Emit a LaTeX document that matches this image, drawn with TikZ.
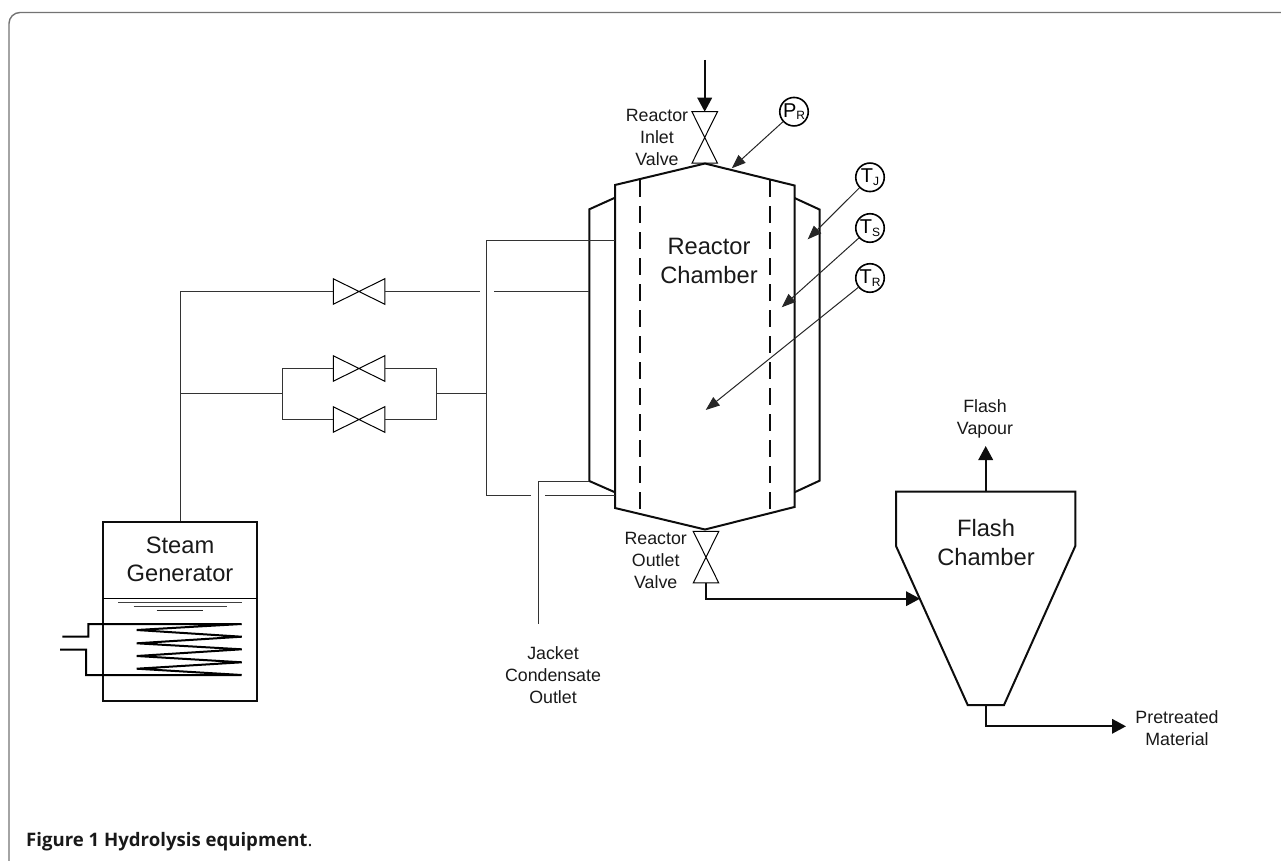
\documentclass[tikz,border=0pt]{standalone}
\usepackage{fontspec}
\newfontfamily\labelfont{Liberation Sans}
\newfontfamily\capfont{Open Sans}
\usetikzlibrary{arrows.meta}
\tikzset{
  vessel/.style={line width=2pt,line join=miter,black!95},
  pipe/.style={line width=1pt,black!80},
  flow/.style={line width=2pt,black!95,-{Triangle[length=14pt,width=14.5pt]}},
  probe/.style={line width=1pt,black!85,-{Triangle[length=14pt,width=10.5pt]}},
  instr/.style={circle,draw,line width=1.6pt,minimum size=28.5pt,inner sep=0pt,fill=white,font=\labelfont\fontsize{20}{20}\selectfont},
  biglabel/.style={align=center,inner sep=0pt,font=\labelfont\fontsize{23.7}{28.5}\selectfont,text=black!90},
  smalllabel/.style={align=center,inner sep=0pt,font=\labelfont\fontsize{17.8}{22}\selectfont,text=black!90},
  valvebox/.style={inner sep=0pt,outer sep=0pt},
  valveline/.style={line width=1pt,black,line join=miter},
  frameline/.style={line width=1.4pt,black!55}
}
\newcommand{\hvalve}[2]{%
  \node[valvebox,minimum width=51.5pt,minimum height=25.5pt] (#1) at (#2) {};
  \draw[valveline] (#1.north west) -- (#1.south west) -- (#1.north east) -- (#1.south east) -- cycle;}
\newcommand{\vvalve}[2]{%
  \node[valvebox,minimum width=25.5pt,minimum height=51.5pt] (#1) at (#2) {};
  \draw[valveline] (#1.north west) -- (#1.north east) -- (#1.south west) -- (#1.south east) -- cycle;}
\newcommand{\subt}[1]{{\raisebox{-2.5pt}{\fontsize{12}{12}\selectfont #1}}}
\begin{document}
\begin{tikzpicture}[x=1pt,y=-1pt]
\useasboundingbox (0,0) rectangle (1281,861);
% frame
\draw[frameline,rounded corners=11pt] (9,870) -- (9,12.5) -- (1290,12.5);

% ---- reactor
\draw[vessel] (615,185) -- (705,163.5) -- (794.5,185.5) -- (794.5,507) -- (705,529.5) -- (615,508) -- cycle;
\draw[vessel] (615,197.7) -- (589.3,209.3) -- (589.3,481) -- (615,492.3);
\draw[vessel] (794.5,198) -- (819.5,209.5) -- (819.5,480.7) -- (794.5,492.3);
\draw[vessel,dash pattern=on 17pt off 9pt] (640.3,180) -- (640.3,509);
\draw[vessel,dash pattern=on 17pt off 9pt] (770,180) -- (770,509);
\node[biglabel] (reactor) at (709,261) {Reactor\\Chamber};

% ---- valves
\vvalve{inlet}{704.7,137.5}
\vvalve{outlet}{706,557.2}
\hvalve{vA}{359,291.5}
\hvalve{vB}{359,368.5}
\hvalve{vC}{359,419.5}
\node[smalllabel] (inletlbl) at (657,137) {Reactor\\Inlet\\Valve};
\node[smalllabel] (outletlbl) at (655.7,560) {Reactor\\Outlet\\Valve};

% ---- inlet
\coordinate (feed) at (704.7,60);
\draw[flow] (feed) -- (inlet.north);

% ---- instruments
\node[instr] (PR) at (794,111.7) {P\subt{R}};
\node[instr] (TJ) at (870,177.3) {T\subt{J}};
\node[instr] (TS) at (870,228) {T\subt{S}};
\node[instr] (TR) at (870,278) {T\subt{R}};
\coordinate (pPR) at (731.7,168.3);
\coordinate (pTJ) at (807.7,239.3);
\coordinate (pTS) at (781.7,307.3);
\coordinate (pTR) at (705.7,410);
\draw[probe] (PR) -- (pPR);
\draw[probe] (TJ) -- (pTJ);
\draw[probe] (TS) -- (pTS);
\draw[probe] (TR) -- (pTR);

% ---- steam generator
\node[draw,vessel,minimum width=153.7pt,minimum height=179pt,inner sep=0pt] (gen) at (179.85,611.2) {};
\node[biglabel] (genlbl) at (180,559.5) {Steam\\Generator};
\draw[line width=1pt] (103,598.5) -- (256.7,598.5);
\draw[line width=0.9pt,black!75] (118.3,602.5) -- (241.7,602.5);
\draw[line width=0.9pt,black!75] (133.7,606.5) -- (226.7,606.5);
\draw[line width=0.9pt,black!85] (156.7,610.5) -- (203.3,610.5);
\draw[line width=2pt,line join=miter] (62.3,636.7) -- (88.3,636.7) -- (88.3,624) -- (241.7,624)
  -- (136.7,630) -- (241.7,636.7) -- (136.7,643.3) -- (241.7,649.3) -- (136.7,656)
  -- (241.7,662.3) -- (136.7,668.7) -- (241.7,675) -- (86,675) -- (86,649.7) -- (60,649.7);

% ---- steam piping
\coordinate (j1) at (180.5,291.5);
\coordinate (j2) at (180.5,393.5);
\coordinate (b1) at (282.5,393.5);
\coordinate (b2) at (436.5,393.5);
\coordinate (hdr) at (486.5,393.5);
\coordinate (gapL) at (480,291.5);
\coordinate (gapR) at (494,291.5);
\coordinate (jkt1) at (589.3,291.5);
\draw[pipe] (gen.north -| j1) -- (j1) -- (vA.west);
\draw[pipe] (vA.east) -- (gapL);
\draw[pipe] (gapR) -- (jkt1);
\draw[pipe] (j2) -- (b1);
\draw[pipe] (vB.west) -| (b1) |- (vC.west);
\draw[pipe] (vB.east) -| (b2) |- (vC.east);
\draw[pipe] (b2) -- (hdr);
\coordinate (hdrT) at (486.5,240.5);
\coordinate (hdrB) at (486.5,495.5);
\coordinate (rT) at (615,240.5);
\coordinate (rB) at (615,495.5);
\coordinate (gapB1) at (531,495.5);
\coordinate (gapB2) at (545.3,495.5);
\draw[pipe,line join=miter] (rT) -- (hdrT) -- (hdrB) -- (gapB1);
\draw[pipe] (gapB2) -- (rB);
% jacket condensate
\coordinate (cA) at (589.3,481.5);
\coordinate (cB) at (538.5,481.5);
\coordinate (cC) at (538.5,624);
\draw[pipe,line join=miter] (cA) -- (cB) -- (cC);
\node[smalllabel] (cond) at (553,675) {Jacket\\Condensate\\Outlet};

% ---- flash chamber
\draw[vessel] (896,491.7) -- (1075.3,491.7) -- (1075.3,546) -- (1004,705) -- (967.7,705) -- (896,546) -- cycle;
\node[biglabel] (flash) at (986,542.5) {Flash\\Chamber};
\coordinate (fTop) at (985.7,491.7);
\coordinate (fVap) at (985.7,446);
\draw[flow] (fTop) -- (fVap);
\node[smalllabel] (vap) at (985,419) {Flash\\Vapour};
\coordinate (fBot) at (985.7,705);
\coordinate (fOut) at (1126,726.3);
\draw[flow] (fBot) |- (fOut);
\node[smalllabel] (mat) at (1177,728) {Pretreated\\Material};
\coordinate (fIn) at (920,598.7);
\draw[flow] (outlet.south) |- (fIn);

% ---- caption
\node[anchor=base west,inner sep=0pt,font=\capfont\fontsize{18.6}{22}\selectfont,text=black!90] (cap) at (26,846) {\textbf{Figure 1 Hydrolysis equipment}.};
\end{tikzpicture}
\end{document}
